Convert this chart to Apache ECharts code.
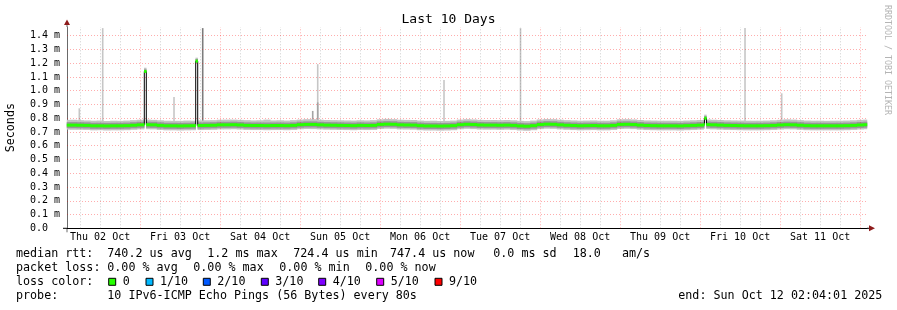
<!DOCTYPE html>
<html><head><meta charset="utf-8">
<script src="https://cdn.jsdelivr.net/npm/echarts@6/dist/echarts.min.js"></script>
<style>html,body{margin:0;padding:0;background:#fff}#c{width:897px;height:310px}</style>
</head><body><div id="c"></div>
<script>
// ---------- DATA (time in hours since Thu 02 Oct 00:00, rtt in ms) ----------
const startHour = 2 + 4 / 60 + 1 / 3600;   // Thu 02 Oct 02:04:01
const endHour = startHour + 240;           // Sun 12 Oct 02:04:01
const stepHours = 2;                       // one reading every 2 hours

const dayLabels = ['Thu 02 Oct','Fri 03 Oct','Sat 04 Oct','Sun 05 Oct','Mon 06 Oct','Tue 07 Oct','Wed 08 Oct','Thu 09 Oct','Fri 10 Oct','Sat 11 Oct'];
const dayNoonHours = [12, 36, 60, 84, 108, 132, 156, 180, 204, 228];
const yGridValues = [0.1, 0.2, 0.3, 0.4, 0.5, 0.6, 0.7, 0.8, 0.9, 1.0, 1.1, 1.2, 1.3, 1.4];

const medianValues = [
0.750,0.750,0.749,0.748,0.745,0.745,0.744,0.745,0.745,0.746,
0.749,0.752,0.753,0.752,0.748,0.745,0.745,0.744,0.745,0.746,
0.747,0.748,0.749,0.752,0.752,0.753,0.751,0.748,0.747,0.747,
0.746,0.747,0.747,0.746,0.748,0.753,0.755,0.755,0.752,0.750,
0.749,0.748,0.747,0.746,0.748,0.747,0.748,0.755,0.757,0.756,
0.752,0.751,0.750,0.746,0.744,0.744,0.743,0.744,0.746,0.753,
0.756,0.754,0.751,0.750,0.750,0.749,0.750,0.748,0.744,0.742,
0.746,0.754,0.757,0.756,0.752,0.749,0.747,0.745,0.746,0.747,
0.745,0.745,0.748,0.755,0.756,0.754,0.750,0.747,0.746,0.745,
0.745,0.745,0.744,0.746,0.748,0.750,0.754,0.752,0.750,0.748,
0.747,0.746,0.745,0.745,0.745,0.746,0.748,0.751,0.753,0.752,
0.749,0.746,0.745,0.745,0.745,0.745,0.745,0.746,0.748,0.751,0.753];

const smokeOuterHigh = [
0.788,0.789,0.786,0.784,0.782,0.783,0.780,0.782,0.781,0.783,
0.786,0.789,0.790,0.788,0.785,0.782,0.781,0.781,0.783,0.782,
0.784,0.785,0.786,0.789,0.790,0.790,0.788,0.786,0.784,0.785,
0.790,0.784,0.785,0.783,0.786,0.790,0.793,0.793,0.789,0.787,
0.786,0.785,0.784,0.783,0.785,0.784,0.786,0.792,0.795,0.793,
0.789,0.788,0.787,0.783,0.781,0.782,0.780,0.781,0.783,0.790,
0.793,0.791,0.788,0.787,0.787,0.786,0.787,0.785,0.781,0.779,
0.783,0.791,0.794,0.793,0.789,0.786,0.784,0.782,0.783,0.784,
0.782,0.782,0.785,0.792,0.793,0.791,0.787,0.784,0.783,0.782,
0.782,0.782,0.781,0.783,0.785,0.787,0.791,0.789,0.787,0.785,
0.784,0.783,0.782,0.782,0.782,0.783,0.785,0.788,0.792,0.790,
0.786,0.783,0.782,0.782,0.781,0.782,0.782,0.783,0.785,0.788,0.790];

const smokeInnerHigh = [
0.772,0.772,0.771,0.770,0.767,0.767,0.766,0.767,0.767,0.768,
0.771,0.774,0.775,0.774,0.770,0.767,0.767,0.766,0.767,0.768,
0.769,0.770,0.771,0.774,0.774,0.775,0.773,0.770,0.769,0.769,
0.769,0.769,0.769,0.768,0.770,0.775,0.777,0.777,0.774,0.772,
0.771,0.770,0.769,0.768,0.770,0.769,0.770,0.777,0.779,0.778,
0.774,0.773,0.772,0.768,0.766,0.766,0.765,0.766,0.768,0.775,
0.778,0.776,0.773,0.772,0.772,0.771,0.772,0.770,0.766,0.764,
0.768,0.776,0.779,0.778,0.774,0.771,0.769,0.767,0.768,0.769,
0.767,0.767,0.770,0.777,0.778,0.776,0.772,0.769,0.768,0.767,
0.767,0.767,0.766,0.768,0.770,0.772,0.776,0.774,0.772,0.770,
0.769,0.768,0.767,0.767,0.767,0.768,0.770,0.773,0.775,0.774,
0.771,0.768,0.767,0.767,0.767,0.767,0.767,0.768,0.770,0.773,0.775];

const smokeInnerLow = [
0.728,0.728,0.727,0.726,0.723,0.723,0.722,0.723,0.723,0.724,
0.727,0.730,0.731,0.730,0.726,0.723,0.723,0.722,0.723,0.724,
0.725,0.726,0.727,0.730,0.730,0.731,0.729,0.726,0.725,0.725,
0.724,0.725,0.725,0.724,0.726,0.731,0.733,0.733,0.730,0.728,
0.727,0.726,0.725,0.724,0.726,0.725,0.726,0.733,0.735,0.734,
0.730,0.729,0.728,0.724,0.722,0.722,0.721,0.722,0.724,0.731,
0.734,0.732,0.729,0.728,0.728,0.727,0.728,0.726,0.722,0.720,
0.724,0.732,0.735,0.734,0.730,0.727,0.725,0.723,0.724,0.725,
0.723,0.723,0.726,0.733,0.734,0.732,0.728,0.725,0.724,0.723,
0.723,0.723,0.722,0.724,0.726,0.728,0.732,0.730,0.728,0.726,
0.725,0.724,0.723,0.723,0.723,0.724,0.726,0.729,0.731,0.730,
0.727,0.724,0.723,0.723,0.723,0.723,0.723,0.724,0.726,0.729,0.731];

const smokeOuterLow = [
0.717,0.716,0.716,0.715,0.712,0.713,0.711,0.712,0.712,0.713,
0.716,0.719,0.720,0.719,0.715,0.712,0.712,0.711,0.712,0.713,
0.714,0.715,0.716,0.719,0.719,0.720,0.718,0.715,0.714,0.714,
0.713,0.714,0.714,0.713,0.715,0.720,0.722,0.721,0.719,0.717,
0.716,0.715,0.714,0.713,0.715,0.714,0.715,0.722,0.724,0.723,
0.719,0.718,0.717,0.713,0.711,0.711,0.710,0.711,0.713,0.720,
0.723,0.721,0.718,0.717,0.717,0.716,0.717,0.715,0.711,0.709,
0.713,0.721,0.724,0.723,0.719,0.716,0.714,0.712,0.713,0.714,
0.712,0.712,0.715,0.722,0.723,0.721,0.717,0.714,0.713,0.712,
0.712,0.712,0.711,0.713,0.715,0.717,0.721,0.719,0.717,0.715,
0.714,0.713,0.712,0.712,0.712,0.713,0.715,0.718,0.720,0.719,
0.716,0.713,0.712,0.712,0.712,0.712,0.712,0.713,0.715,0.718,0.720];

// short median excursions
const spikeStartHours = [25.26, 40.68, 193.30];
const spikeEndHours   = [25.86, 41.28, 193.90];
const spikeMedian     = [1.140, 1.215, 0.800];
const spikeOuterLow   = [1.128, 1.203, 0.786];
const spikeInnerLow   = [1.133, 1.208, 0.790];
const spikeInnerHigh  = [1.155, 1.230, 0.815];
const spikeOuterHigh  = [1.167, 1.240, 0.826];

// single-ping outliers (smoke reaching up)
const outlierHours   = [5.76, 12.78, 34.17, 42.78, 75.78, 77.28, 77.28, 115.17, 138.12, 205.47, 216.48];
const outlierBottoms = [0.770, 0.770, 0.770, 0.770, 0.770, 0.770, 0.770, 0.770, 0.770, 0.770, 0.770];
const outlierTops    = [0.872, 1.455, 0.954, 1.455, 0.853, 1.193, 0.915, 1.077, 1.455, 1.455, 0.981];
const outlierShades  = [0, 0, 0, 2, 1, 0, 1, 0, 0, 0, 0];

// legend texts
const rowLabels = ['median rtt:', 'packet loss:', 'loss color:', 'probe:'];
const rttStats = ['740.2 us avg', '1.2 ms max', '724.4 us min', '747.4 us now', '0.0 ms sd', '18.0   am/s'];
const lossStats = ['0.00 % avg', '0.00 % max', '0.00 % min', '0.00 % now'];
const lossColorLabels = ['0', '1/10', '2/10', '3/10', '4/10', '5/10', '9/10'];
const lossColors = ['#26ff00', '#00b8ff', '#0059ff', '#5e00ff', '#7e00ff', '#dd00ff', '#ff0000'];
const probeText = '10 IPv6-ICMP Echo Pings (56 Bytes) every 80s';
const endText = 'end: Sun Oct 12 02:04:01 2025';

// ---------- LAYOUT / STYLE ----------
const MONO = '"DejaVu Sans Mono", monospace';
const rttStatX = [107.3, 207.3, 293.3, 390, 493.3, 572.7];
const lossStatX = [107.3, 193.3, 279.3, 365.3];
const swatchX = [108.7, 146, 203.3, 261.3, 318.7, 376.7, 435];
const rowY = [254.3, 268.3, 282.3, 296];
const shadeColors = ['#c6c6c6', '#a4a4a4', '#7c7c7c'];
const MAJOR_GRID = 'rgba(255,0,0,0.32)';
const MINOR_GRID = 'rgba(130,130,130,0.38)';

function buildSegments(baseArrays, spikeArrays) {
  let segs = [];
  for (let i = 0; i < baseArrays[0].length; i++) {
    const c = startHour + i * stepHours;
    segs.push([Math.max(startHour, c - stepHours / 2), Math.min(endHour, c + stepHours / 2)].concat(baseArrays.map(a => a[i])));
  }
  spikeStartHours.forEach((s, k) => {
    const e = spikeEndHours[k];
    const next = [];
    segs.forEach(seg => {
      if (seg[1] <= s || seg[0] >= e) { next.push(seg); return; }
      if (seg[0] < s) next.push([seg[0], s].concat(seg.slice(2)));
      if (seg[1] > e) next.push([e, seg[1]].concat(seg.slice(2)));
    });
    next.push([s, e].concat(spikeArrays.map(a => a[k])));
    next.sort((a, b) => a[0] - b[0]);
    segs = next;
  });
  return segs;
}

const outerSegs = buildSegments([smokeOuterLow, smokeOuterHigh], [spikeOuterLow, spikeOuterHigh]);
const innerSegs = buildSegments([smokeInnerLow, smokeInnerHigh], [spikeInnerLow, spikeInnerHigh]);
const medianSegs = buildSegments([medianValues], [spikeMedian]);
const jumps = [];
for (let i = 1; i < medianSegs.length; i++) {
  const a = medianSegs[i - 1][2], b = medianSegs[i][2];
  if (Math.abs(a - b) > 0.015) jumps.push([medianSegs[i][0], a, b]);
}
const outlierData = outlierHours.map((h, i) => [h, outlierBottoms[i], outlierTops[i], outlierShades[i]]);

const gridLines = [];
for (let h = 6; h < endHour; h += 6) {
  if (h <= startHour) continue;
  const major = h % 24 === 0;
  gridLines.push({ xAxis: h, lineStyle: { color: major ? MAJOR_GRID : MINOR_GRID, type: [1, 2], width: 1 } });
}
yGridValues.forEach(v => gridLines.push({ yAxis: v, lineStyle: { color: MAJOR_GRID, type: [1, 2], width: 1 } }));

function bandRender(color) {
  return function (params, api) {
    const a = api.coord([api.value(0), api.value(3)]);
    const b = api.coord([api.value(1), api.value(2)]);
    return { type: 'rect', shape: { x: a[0] - 0.25, y: a[1], width: b[0] - a[0] + 0.5, height: b[1] - a[1] }, style: { fill: color } };
  };
}

const chart = echarts.init(document.getElementById('c'));
chart.setOption({
  animation: false,
  backgroundColor: '#ffffff',
  title: { text: 'Last 10 Days', left: 'center', top: 13, padding: 0,
    textStyle: { fontFamily: MONO, fontSize: 13, fontWeight: 'normal', color: '#000' } },
  grid: { left: 67, top: 27, width: 800, height: 201.3, containLabel: false, outerBoundsMode: 'none' },
  xAxis: {
    type: 'value', min: startHour, max: endHour,
    axisLine: { show: true, lineStyle: { color: '#000', width: 1 } },
    axisTick: { show: false },
    splitLine: { show: false },
    axisLabel: { customValues: dayNoonHours, formatter: v => dayLabels[Math.round((v - 12) / 24)],
      fontFamily: MONO, fontSize: 10, color: '#000', margin: 4 }
  },
  yAxis: {
    type: 'value', min: 0, max: 1.463, interval: 0.1,
    name: 'Seconds', nameLocation: 'middle', nameGap: 50,
    nameTextStyle: { fontFamily: MONO, fontSize: 11.7, color: '#000' },
    axisLine: { show: true, lineStyle: { color: '#6a6a6a', width: 1 } },
    axisTick: { show: false },
    axisLabel: { fontFamily: MONO, fontSize: 10, color: '#000', margin: 7, showMaxLabel: false,
      formatter: v => v > 1.405 ? '' : (v < 1e-9 ? '0.0  ' : v.toFixed(1) + ' m') },
    splitLine: { show: false }
  },
  series: [
    { type: 'line', data: [[startHour, 0]], symbol: 'none', lineStyle: { opacity: 0 }, z: 1, silent: true,
      markLine: { silent: true, symbol: ['none', 'none'], label: { show: false }, animation: false, data: gridLines } },
    { type: 'custom', name: 'outliers', z: 2, silent: true, data: outlierData, encode: { x: 0, y: [1, 2] },
      renderItem: function (params, api) {
        const a = api.coord([api.value(0), api.value(2)]);
        const b = api.coord([api.value(0), api.value(1)]);
        const w = 1.6;
        return { type: 'rect', shape: { x: a[0] - w / 2, y: a[1], width: w, height: b[1] - a[1] },
          style: { fill: shadeColors[api.value(3)] } };
      } },
    { type: 'custom', name: 'smoke outer', z: 3, silent: true, data: outerSegs, encode: { x: [0, 1], y: [2, 3] },
      renderItem: bandRender('#c2c2c2') },
    { type: 'custom', name: 'smoke inner', z: 4, silent: true, data: innerSegs, encode: { x: [0, 1], y: [2, 3] },
      renderItem: bandRender('#969696') },
    { type: 'custom', name: 'median jumps', z: 5, silent: true, data: jumps, encode: { x: 0, y: [1, 2] },
      renderItem: function (params, api) {
        const a = api.coord([api.value(0), api.value(1)]);
        const b = api.coord([api.value(0), api.value(2)]);
        return { type: 'line', shape: { x1: a[0], y1: a[1], x2: b[0], y2: b[1] }, style: { stroke: '#000', lineWidth: 1 } };
      } },
    { type: 'custom', name: 'median rtt', z: 6, silent: true, data: medianSegs, encode: { x: [0, 1], y: 2 },
      renderItem: function (params, api) {
        const a = api.coord([api.value(0), api.value(2)]);
        const b = api.coord([api.value(1), api.value(2)]);
        return { type: 'rect', shape: { x: a[0] - 0.25, y: a[1] - 1.5, width: b[0] - a[0] + 0.5, height: 3 }, style: { fill: lossColors[0] } };
      } }
  ]
});

// ---------- decorations & legend ----------
const x0 = chart.convertToPixel({ xAxisIndex: 0 }, startHour);
const x1 = chart.convertToPixel({ xAxisIndex: 0 }, endHour);
const y0 = chart.convertToPixel({ yAxisIndex: 0 }, 0);
const yTop = chart.convertToPixel({ yAxisIndex: 0 }, 1.463);
const arrowColor = '#8e1b1b';
const textFont = '11.7px ' + MONO;
const g = [
  { type: 'line', shape: { x1: x0 - 4, y1: y0, x2: x0, y2: y0 }, style: { stroke: '#000', lineWidth: 1 } },
  { type: 'line', shape: { x1: x1, y1: y0, x2: x1 + 3, y2: y0 }, style: { stroke: '#000', lineWidth: 1 } },
  { type: 'line', shape: { x1: x0, y1: y0, x2: x0, y2: y0 + 4 }, style: { stroke: '#6a6a6a', lineWidth: 1 } },
  { type: 'line', shape: { x1: x0, y1: yTop, x2: x0, y2: yTop - 2 }, style: { stroke: '#6a6a6a', lineWidth: 1 } },
  { type: 'polygon', shape: { points: [[x1 + 2, y0 - 3], [x1 + 8, y0], [x1 + 2, y0 + 3]] }, style: { fill: arrowColor } },
  { type: 'polygon', shape: { points: [[x0 - 3, yTop - 2], [x0, yTop - 7.5], [x0 + 3, yTop - 2]] }, style: { fill: arrowColor } },
  { type: 'text', x: 887.5, y: 5, rotation: -Math.PI / 2,
    style: { text: 'RRDTOOL / TOBI OETIKER', font: '8.3px ' + MONO, fill: '#b4b4b4', textAlign: 'left', textVerticalAlign: 'middle', align: 'left', verticalAlign: 'middle' } }
];
function txt(s, x, y) {
  return { type: 'text', x: x, y: y, style: { text: s, font: textFont, fill: '#000', textAlign: 'left', textVerticalAlign: 'middle', align: 'left', verticalAlign: 'middle' } };
}
rowLabels.forEach((s, i) => g.push(txt(s, 16, rowY[i])));
rttStats.forEach((s, i) => g.push(txt(s, rttStatX[i], rowY[0])));
lossStats.forEach((s, i) => g.push(txt(s, lossStatX[i], rowY[1])));
lossColorLabels.forEach((s, i) => {
  g.push({ type: 'rect', shape: { x: swatchX[i], y: rowY[2] - 4, width: 7, height: 7 }, style: { fill: lossColors[i], stroke: '#000', lineWidth: 1 } });
  g.push(txt(s, swatchX[i] + 14, rowY[2]));
});
g.push(txt(probeText, 107.3, rowY[3]));
g.push(txt(endText, 678.3, rowY[3]));
chart.setOption({ graphic: g });
</script></body></html>
